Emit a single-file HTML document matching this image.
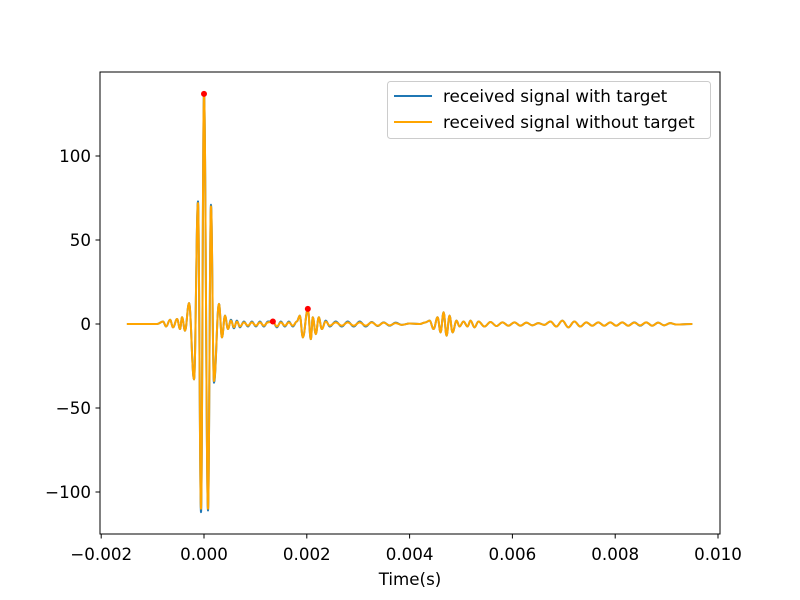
<!DOCTYPE html>
<html><head><meta charset="utf-8"><style>
body{margin:0;background:#fff}
svg{display:block;font-family:"DejaVu Sans","Liberation Sans",sans-serif}
</style></head><body>
<svg id="chart" width="800" height="600" xmlns="http://www.w3.org/2000/svg">
<rect x="0" y="0" width="800" height="600" fill="#fff"/>
<g id="plot"></g>
<rect x="100" y="72" width="620" height="462" fill="none" stroke="#000" stroke-width="1"/>
<g id="xticks"></g>
<g id="yticks"></g>
<text x="410" y="585" text-anchor="middle" font-size="16.7">Time(s)</text>
<g>
<rect x="387.5" y="81.5" width="323" height="57" rx="3" fill="#fff" fill-opacity="0.8" stroke="#ccc"/>
<line x1="394" y1="96" x2="432" y2="96" stroke="#1f77b4" stroke-width="2"/>
<text x="443" y="102" font-size="16.8">received signal with target</text>
<line x1="394" y1="122" x2="432" y2="122" stroke="#ffa500" stroke-width="2"/>
<text x="443" y="128" font-size="16.8">received signal without target</text>
</g>
</svg>
<script>
// extrema times (ms) and values
const times = [-1.5,-0.913,-0.796,-0.738,-0.660,-0.602,-0.524,-0.466,-0.427,-0.369,-0.291,-0.194,-0.117,-0.058,0,0.078,0.136,0.194,0.291,0.350,0.408,0.466,0.524,0.583,0.641,0.699,0.777,0.854,0.932,1.010,1.088,1.165,1.243,1.340,1.418,1.495,1.573,1.651,1.728,1.806,1.864,1.923,2.020,2.078,2.117,2.175,2.233,2.292,2.369,2.447,2.563,2.680,2.796,2.913,3.029,3.146,3.263,3.379,3.496,3.612,3.729,3.845,4.001,4.195,4.311,4.389,4.467,4.544,4.603,4.661,4.719,4.777,4.836,4.913,4.972,5.049,5.127,5.185,5.263,5.340,5.457,5.574,5.690,5.807,5.923,6.040,6.156,6.273,6.389,6.506,6.622,6.739,6.855,6.972,7.088,7.205,7.321,7.438,7.554,7.671,7.787,7.904,8.020,8.137,8.254,8.370,8.487,8.603,8.720,8.836,8.953,9.069,9.186,9.5];
const withoutTarget = [0,0,1.5,-1.5,2.5,-2,3,-3,4,-4,12.5,-33,72,-110,137,-110,70,-34,12,-8,5,-3,2,-2,1.5,-1.5,1,-1,1,-1,1,-1,1,1.5,-1.5,1,-1,1,-1,1.5,5,-8,9,-9,4,-6,4,-3,1.5,-1,1,-1,1,-1,1,-1,1,-1,0.8,-0.8,0.5,-0.5,0.3,0,1,2,-3,4,-5,7,-7,5,-5,2,-1.5,1.5,-1.5,2,-2,1.5,-1.5,1.2,-1.2,1,-1,1,-1,0.8,-0.8,0.5,-0.5,1.5,-1.5,2,-2,1.5,-1.5,1,-1,1,-1,1,-1,1,-1,0.8,-0.8,1,-1,0.8,-0.8,0.5,-0.3,0];
const withTarget = [0,0,1.5,-1.5,2.5,-2,3,-3,4,-4,12.5,-33,73,-112,137,-111,71,-35,12,-8,5,-3,2.5,-2.5,2,-2,1.5,-1.5,1.5,-1.5,1.5,-1.5,1.5,1.5,-2,1.5,-1.5,1.5,-1.5,1.5,5,-8,9,-9,4,-6,4,-3,2,-1.5,1.5,-1.5,1.5,-1.5,1.5,-1.5,1.2,-1.2,1,-1,0.8,-0.5,0.3,0,1,2,-3,4,-5,7,-7,5,-5,2,-1.5,1.5,-1.5,2,-2,1.5,-1.5,1.2,-1.2,1,-1,1,-1,0.8,-0.8,0.5,-0.5,1.5,-1.5,2,-2,1.5,-1.5,1,-1,1,-1,1,-1,1,-1,1,-1,1,-1,0.8,-0.8,0.5,-0.3,0];
const peakTimes = [0, 1.340, 2.020];
const peakValues = [137, 1.5, 9];
const xTickValues = [-0.002,0,0.002,0.004,0.006,0.008,0.010];
const xTickLabels = ["\u22120.002","0.000","0.002","0.004","0.006","0.008","0.010"];
const yTickValues = [-100,-50,0,50,100];
const yTickLabels = ["\u2212100","\u221250","0","50","100"];

const NS="http://www.w3.org/2000/svg";
function xs(ms){return 204+ms*51.4;}
function ys(v){return 324-v*1.68;}
function mk(tag,attrs,parent){const e=document.createElementNS(NS,tag);for(const k in attrs)e.setAttribute(k,attrs[k]);parent.appendChild(e);return e;}
const plot=document.getElementById('plot');
function curve(vals){
  let d='M'+xs(times[0]).toFixed(2)+','+ys(vals[0]).toFixed(2);
  for(let i=1;i<times.length;i++){
    const x0=xs(times[i-1]),x1=xs(times[i]),y0=ys(vals[i-1]),y1=ys(vals[i]);
    const dx=(x1-x0)/2.6;
    d+=' C'+(x0+dx).toFixed(2)+','+y0.toFixed(2)+' '+(x1-dx).toFixed(2)+','+y1.toFixed(2)+' '+x1.toFixed(2)+','+y1.toFixed(2);
  }
  return d;
}
const p1=mk('path',{d:curve(withTarget),fill:'none',stroke:'#1f77b4','stroke-width':2,'stroke-linejoin':'round'},plot);


const p2=mk('path',{d:curve(withoutTarget),fill:'none',stroke:'#ffa500','stroke-width':2,'stroke-linejoin':'round'},plot);


for(let i=0;i<peakTimes.length;i++){
  const c=mk('circle',{cx:xs(peakTimes[i]),cy:ys(peakValues[i]),r:3,fill:'#ff0000'},plot);
  
  
}
const xg=document.getElementById('xticks');
for(let i=0;i<xTickValues.length;i++){
  const x=xs(xTickValues[i]*1000);
  const l=mk('line',{x1:x,y1:534,x2:x,y2:538.5,stroke:'#000'},xg);
  
  
  const t=mk('text',{x:x,y:560,'text-anchor':'middle','font-size':16.7},xg);
  t.textContent=xTickLabels[i];
  
  
}
const yg=document.getElementById('yticks');
for(let i=0;i<yTickValues.length;i++){
  const y=ys(yTickValues[i]);
  const l=mk('line',{x1:95.5,y1:y,x2:100,y2:y,stroke:'#000'},yg);
  
  
  const t=mk('text',{x:91,y:y+6,'text-anchor':'end','font-size':16.7},yg);
  t.textContent=yTickLabels[i];
  
  
}
</script>
</body></html>
